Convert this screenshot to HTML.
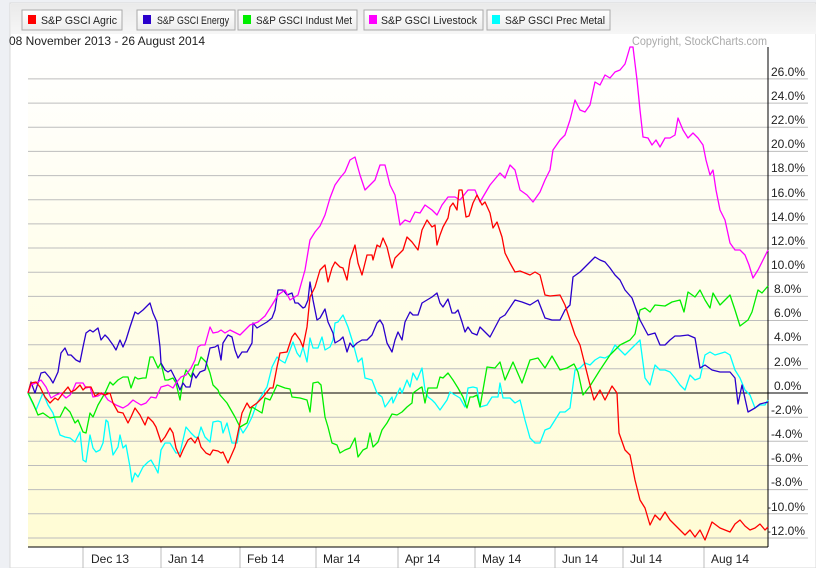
<!DOCTYPE html>
<html><head><meta charset="utf-8"><style>
body{margin:0;width:816px;height:568px;overflow:hidden;background:#fff;font-family:"Liberation Sans",sans-serif;}
</style></head><body>
<svg width="816" height="568" xmlns="http://www.w3.org/2000/svg" font-family="Liberation Sans, sans-serif">
<defs>
<linearGradient id="bg" x1="0" y1="0" x2="0" y2="1"><stop offset="0" stop-color="#ffffff"/><stop offset="1" stop-color="#fffcd4"/></linearGradient>
<linearGradient id="top" x1="0" y1="0" x2="0" y2="1"><stop offset="0" stop-color="#eaeaea"/><stop offset="1" stop-color="#f6f6f6"/></linearGradient>
<linearGradient id="btn" x1="0" y1="0" x2="0" y2="1"><stop offset="0" stop-color="#ffffff"/><stop offset="1" stop-color="#ececec"/></linearGradient>
</defs>
<rect x="0" y="0" width="816" height="568" fill="#eef0f4"/>
<rect x="10" y="3" width="806" height="565" fill="#fff" stroke="#d8d8d8"/>
<rect x="11" y="4" width="805" height="30" fill="url(#top)"/>
<rect x="28" y="47" width="740" height="500" fill="url(#bg)"/>
<g font-size="11" fill="#222">
<rect x="22" y="10" width="100" height="20" fill="url(#btn)" stroke="#aaa"/><rect x="28" y="15" width="8" height="9" fill="#ff0000"/><text x="41" y="24" textLength="76" lengthAdjust="spacingAndGlyphs">S&amp;P GSCI Agric</text>
<rect x="137" y="10" width="98" height="20" fill="url(#btn)" stroke="#aaa"/><rect x="143" y="15" width="8" height="9" fill="#2a00cc"/><text x="157" y="24" textLength="72" lengthAdjust="spacingAndGlyphs">S&amp;P GSCI Energy</text>
<rect x="238" y="10" width="119" height="20" fill="url(#btn)" stroke="#aaa"/><rect x="243" y="15" width="8" height="9" fill="#00ee00"/><text x="256" y="24" textLength="96" lengthAdjust="spacingAndGlyphs">S&amp;P GSCI Indust Met</text>
<rect x="364" y="10" width="119" height="20" fill="url(#btn)" stroke="#aaa"/><rect x="369" y="15" width="8" height="9" fill="#ff00ff"/><text x="381" y="24" textLength="96" lengthAdjust="spacingAndGlyphs">S&amp;P GSCI Livestock</text>
<rect x="487" y="10" width="123" height="20" fill="url(#btn)" stroke="#aaa"/><rect x="492" y="15" width="8" height="9" fill="#00ffff"/><text x="505" y="24" textLength="100" lengthAdjust="spacingAndGlyphs">S&amp;P GSCI Prec Metal</text>
</g>
<text x="9" y="45" font-size="12" fill="#222" textLength="196" lengthAdjust="spacingAndGlyphs">08 November 2013 - 26 August 2014</text>
<text x="632" y="45" font-size="11.5" fill="#aaa" textLength="135" lengthAdjust="spacingAndGlyphs">Copyright, StockCharts.com</text>
<g stroke="#bdbdbd" stroke-width="1">
<line x1="28" x2="808" y1="78.9" y2="78.9"/><line x1="28" x2="808" y1="103.1" y2="103.1"/><line x1="28" x2="808" y1="127.2" y2="127.2"/><line x1="28" x2="808" y1="151.4" y2="151.4"/><line x1="28" x2="808" y1="175.6" y2="175.6"/><line x1="28" x2="808" y1="199.7" y2="199.7"/><line x1="28" x2="808" y1="223.9" y2="223.9"/><line x1="28" x2="808" y1="248" y2="248"/><line x1="28" x2="808" y1="272.2" y2="272.2"/><line x1="28" x2="808" y1="296.4" y2="296.4"/><line x1="28" x2="808" y1="320.5" y2="320.5"/><line x1="28" x2="808" y1="344.7" y2="344.7"/><line x1="28" x2="808" y1="368.8" y2="368.8"/><line x1="28" x2="808" y1="417.2" y2="417.2"/><line x1="28" x2="808" y1="441.3" y2="441.3"/><line x1="28" x2="808" y1="465.5" y2="465.5"/><line x1="28" x2="808" y1="489.6" y2="489.6"/><line x1="28" x2="808" y1="513.8" y2="513.8"/><line x1="28" x2="808" y1="538" y2="538"/>
<line x1="83" x2="83" y1="547" y2="568"/><line x1="161" x2="161" y1="547" y2="568"/><line x1="240" x2="240" y1="547" y2="568"/><line x1="316" x2="316" y1="547" y2="568"/><line x1="398" x2="398" y1="547" y2="568"/><line x1="475" x2="475" y1="547" y2="568"/><line x1="555" x2="555" y1="547" y2="568"/><line x1="623" x2="623" y1="547" y2="568"/><line x1="704" x2="704" y1="547" y2="568"/>
</g>
<line x1="28" x2="768" y1="547" y2="547" stroke="#000"/>
<line x1="768" x2="768" y1="47" y2="547" stroke="#000"/>
<line x1="28" x2="808" y1="393" y2="393" stroke="#000"/>
<g font-size="12" fill="#222">
<text x="771" y="76">26.0%</text><text x="771" y="100">24.0%</text><text x="771" y="124">22.0%</text><text x="771" y="148">20.0%</text><text x="771" y="172">18.0%</text><text x="771" y="197">16.0%</text><text x="771" y="221">14.0%</text><text x="771" y="245">12.0%</text><text x="771" y="269">10.0%</text><text x="774" y="293">8.0%</text><text x="774" y="317">6.0%</text><text x="774" y="341">4.0%</text><text x="774" y="366">2.0%</text><text x="774" y="390">0.0%</text><text x="771" y="414">-2.0%</text><text x="771" y="438">-4.0%</text><text x="771" y="462">-6.0%</text><text x="771" y="486">-8.0%</text><text x="767" y="511">-10.0%</text><text x="767" y="535">-12.0%</text>
</g>
<g font-size="12" fill="#222">
<text x="91" y="563">Dec 13</text><text x="168" y="563">Jan 14</text><text x="247" y="563">Feb 14</text><text x="323" y="563">Mar 14</text><text x="405" y="563">Apr 14</text><text x="482" y="563">May 14</text><text x="562" y="563">Jun 14</text><text x="630" y="563">Jul 14</text><text x="711" y="563">Aug 14</text>
</g>
<g fill="none" stroke-width="1.3" stroke-linejoin="round">
<polyline stroke="#00ffff" points="28,393 31,400 36,410 43,393 48,405 53,413 60,435 65,437 70,438 75,442 80,432 83,460 86,462 90,435 93,448 96,452 100,450 103,443 106,420 108,422 113,455 118,447 120,435 123,448 126,445 130,467 132,482 135,473 138,477 143,467 148,462 151,460 155,467 158,473 161,450 165,443 170,443 176,453 180,453 183,440 186,427 191,433 195,437 198,438 201,427 205,437 210,442 213,422 218,421 221,422 223,433 227,423 232,443 237,443 240,427 243,433 247,427 252,417 257,403 262,395 267,387 272,367 277,357 280,360 285,363 290,350 293,342 297,353 300,357 303,347 307,362 310,338 313,348 318,348 322,337 325,350 330,347 333,340 335,323 338,322 343,315 348,327 353,343 358,362 362,358 365,378 372,380 377,393 382,397 385,407 388,403 392,397 393,403 400,388 402,393 407,380 410,387 413,373 417,380 422,368 425,390 428,397 432,400 435,403 440,410 447,400 450,392 455,395 460,398 465,407 468,388 473,387 477,388 480,407 487,405 492,397 498,397 500,383 503,398 510,398 515,403 520,400 525,420 530,438 535,443 540,443 545,430 550,428 555,420 560,412 565,412 570,408 575,370 580,368 585,363 590,365 595,360 600,357 605,358 610,355 615,345 620,350 625,355 630,350 635,345 640,340 645,378 650,385 655,365 660,370 665,370 670,372 675,378 680,385 685,390 690,375 695,380 700,378 705,355 710,352 715,355 725,352 730,355 735,370 740,378 745,390 750,395 755,408 760,405 765,405 768,400"/>
<polyline stroke="#00ee00" points="28,393 33,403 38,415 43,413 50,418 55,417 60,417 65,407 70,412 75,423 78,420 83,432 86,433 90,413 93,417 98,405 105,393 110,382 113,385 118,380 123,377 128,377 131,388 135,377 138,379 143,378 146,378 150,357 153,357 158,368 161,363 165,380 168,380 173,378 176,383 180,400 183,380 186,370 191,377 195,365 198,365 201,357 206,362 210,373 213,385 218,390 220,395 227,403 235,417 240,427 247,423 252,407 257,410 262,413 265,398 270,400 277,385 285,388 290,389 292,397 300,398 307,400 310,412 313,383 318,382 321,385 325,417 328,427 332,443 337,445 340,453 345,450 350,448 355,438 358,457 363,450 367,448 370,433 373,447 378,442 382,430 387,423 392,414 397,415 402,412 407,407 412,403 413,393 420,388 422,387 425,403 428,388 437,388 440,377 443,378 448,373 453,380 458,388 463,397 467,408 470,397 473,397 477,395 480,407 487,367 495,368 500,362 505,380 513,362 522,383 530,360 538,358 545,368 552,356 560,370 567,368 574,364 578,372 583,395 590,386 600,370 610,355 620,345 630,340 635,334 640,310 645,308 650,312 655,305 665,306 672,302 680,300 684,312 688,292 695,297 700,290 705,300 710,308 713,293 720,305 730,295 735,310 740,326 748,320 752,312 758,290 762,293 768,286"/>
<polyline stroke="#2a00cc" points="28,393 31,382 35,393 41,373 45,372 50,378 53,383 58,372 61,353 65,348 68,355 71,355 76,360 80,362 83,347 86,333 90,330 93,332 98,328 101,340 105,335 108,338 113,345 116,350 120,340 123,347 126,340 130,327 135,312 138,314 143,310 150,303 153,313 157,322 160,347 161,363 165,370 168,372 171,370 176,380 180,390 183,383 186,387 190,387 193,373 196,378 200,372 205,370 210,348 215,347 218,345 221,360 223,343 228,335 232,337 235,350 238,358 242,352 247,352 252,343 253,323 257,328 262,325 267,322 272,318 275,310 278,290 283,290 287,295 292,293 295,303 298,303 303,308 305,307 308,300 310,282 313,300 317,320 320,318 325,309 328,322 333,333 335,343 340,340 343,337 347,352 350,343 353,347 357,343 362,340 367,340 372,335 377,323 380,320 383,325 387,343 392,352 395,340 398,332 402,340 405,322 410,312 413,315 418,315 422,303 427,300 432,297 437,293 440,303 443,307 448,299 452,313 455,313 458,310 462,322 465,332 468,327 472,333 477,335 480,327 490,337 500,318 505,315 515,300 522,302 530,305 538,300 545,318 552,320 560,320 565,310 570,305 573,277 580,272 590,262 595,257 600,260 605,262 610,268 615,275 620,280 625,290 632,298 640,320 648,335 655,333 660,345 665,345 670,340 675,336 680,336 688,335 695,338 700,368 705,365 712,370 720,372 730,372 735,378 738,404 742,385 748,412 755,408 760,404 768,402"/>
<polyline stroke="#ff00ff" points="28,393 31,385 38,382 41,380 46,387 51,398 56,395 61,393 66,398 70,395 73,390 76,383 83,383 86,388 90,387 93,397 98,396 103,393 108,400 113,403 116,405 123,408 128,405 133,400 136,402 141,405 146,403 151,397 156,398 161,387 168,385 173,388 176,383 181,377 186,375 191,368 195,360 198,347 201,345 205,345 210,327 213,333 218,332 221,330 225,333 230,330 240,335 250,325 258,322 265,316 272,305 278,295 285,290 290,300 298,295 305,270 310,240 315,232 320,226 325,215 330,198 335,185 340,178 345,172 350,160 355,157 360,175 365,190 370,185 375,180 380,165 385,165 390,185 395,195 400,225 405,220 410,222 415,212 420,213 425,205 432,210 437,215 442,205 448,197 455,197 460,200 468,190 475,190 480,202 490,185 500,173 505,178 510,165 515,170 520,190 527,195 533,202 540,192 545,180 550,170 553,150 560,140 565,135 570,120 575,100 580,110 585,112 590,105 595,82 600,85 605,75 610,78 615,72 620,70 625,64 630,47 633,47 637,80 640,110 643,137 648,138 652,145 656,140 660,147 665,138 670,138 675,135 678,118 683,130 688,138 693,133 698,138 703,145 706,160 710,175 713,170 716,190 720,210 725,220 730,243 735,250 740,250 745,255 749,265 753,278 758,270 763,260 768,250"/>
<polyline stroke="#ff0000" points="28,393 31,383 36,382 40,387 45,397 50,403 55,398 58,400 63,393 68,387 71,392 75,390 80,385 83,390 86,387 91,387 95,396 100,393 105,395 110,393 113,403 118,412 123,413 128,423 131,417 135,408 140,415 145,425 148,417 153,422 156,427 161,442 165,437 170,428 173,433 176,448 180,457 183,450 188,440 191,438 195,443 198,437 201,447 206,453 210,455 213,450 218,451 221,453 223,452 228,463 235,447 242,413 247,403 250,408 257,403 263,397 270,388 273,388 277,367 280,353 287,352 292,337 295,333 300,340 303,347 307,327 310,297 315,287 320,270 325,265 328,282 332,268 335,262 340,267 343,268 347,280 350,260 355,245 358,263 362,275 367,255 372,255 373,260 377,245 380,247 383,238 387,247 392,268 395,258 400,253 403,250 407,237 412,242 418,250 422,230 427,220 432,227 435,225 437,245 440,235 443,227 448,218 450,207 453,203 457,210 459,190 462,190 466,217 469,216 473,203 477,195 482,205 485,202 490,213 493,228 497,222 502,237 505,253 510,263 515,272 520,271 530,275 535,272 540,275 545,295 550,296 560,295 565,305 570,320 575,335 580,345 585,365 590,385 594,400 600,390 605,400 612,386 617,393 619,433 625,450 630,455 635,480 640,500 645,508 650,525 655,515 660,520 665,512 670,520 675,525 680,530 685,535 690,530 695,537 700,530 705,540 712,522 720,528 730,532 735,524 740,520 745,526 750,530 755,528 760,524 765,530 768,527"/>
</g>
</svg>
</body></html>
